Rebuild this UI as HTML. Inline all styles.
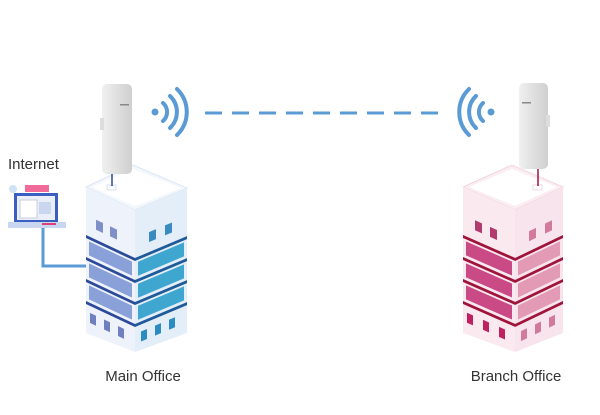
<!DOCTYPE html>
<html><head><meta charset="utf-8"><style>
body{margin:0;background:#fff;}
svg{display:block;font-family:"Liberation Sans",sans-serif;}
</style></head><body>
<svg width="600" height="415" viewBox="0 0 600 415">
<defs>
<linearGradient id="ant" x1="0" x2="1"><stop offset="0" stop-color="#f0f0f0"/><stop offset="1" stop-color="#cfcfcf"/></linearGradient>
</defs>
<!-- cable -->
<polyline points="43,228 43,266 88,266" fill="none" stroke="#5b9bd5" stroke-width="3"/>
<!-- laptop -->
<g>
<circle cx="13" cy="189" r="4" fill="#cfe3f5"/>
<rect x="14" y="193" width="44" height="29" fill="#3b5fc0"/>
<rect x="17" y="196" width="38" height="24" fill="#e9eef8"/>
<rect x="25" y="185" width="24" height="7" fill="#f06a9a"/>
<rect x="20" y="200" width="17" height="18" fill="#ffffff" stroke="#ccd"/>
<rect x="39" y="202" width="12" height="12" fill="#c9d6f0"/>
<rect x="8" y="222" width="58" height="6" fill="#c9d6ef"/>
<rect x="42" y="223" width="14" height="2" fill="#e0407a"/>
</g>
<text x="8" y="169" font-size="15" fill="#333">Internet</text>

<!-- Main building -->
<g>
<polygon points="86,187 133,165 187,188 135,210" fill="#f4f8fd" stroke="#dbe6f4"/>
<polygon points="92,187 133,169 181,188 135,206" fill="#ffffff"/>
<polygon points="86,187 135,210 135,352 86,333" fill="#eef2fb"/>
<polygon points="135,210 187,188 187,333 135,352" fill="#e3eef8"/>
<g transform="matrix(1,0.47,0,1,86,187)">
<rect x="10" y="28" width="7" height="10" fill="#7f8fc8"/><rect x="24" y="28" width="7" height="10" fill="#7f8fc8"/>
<rect x="0" y="48" width="49" height="3" fill="#2c4a9a"/>
<rect x="3" y="53" width="43" height="14" fill="#8aa0d8"/>
<rect x="0" y="70" width="49" height="3" fill="#2c4a9a"/>
<rect x="3" y="75" width="43" height="14" fill="#8aa0d8"/>
<rect x="0" y="92" width="49" height="3" fill="#2c4a9a"/>
<rect x="3" y="97" width="43" height="14" fill="#8aa0d8"/>
<rect x="0" y="114" width="49" height="3" fill="#2c4a9a"/>
<rect x="4" y="124" width="6" height="10" fill="#6f80c0"/><rect x="18" y="124" width="6" height="10" fill="#6f80c0"/><rect x="32" y="124" width="6" height="10" fill="#6f80c0"/>
</g>
<g transform="matrix(1,-0.42,0,1,135,210)">
<rect x="14" y="28" width="7" height="10" fill="#3a8cc0"/><rect x="30" y="28" width="7" height="10" fill="#3a8cc0"/>
<rect x="0" y="48" width="52" height="3" fill="#1f5a9a"/>
<rect x="3" y="53" width="46" height="14" fill="#3fa6cf"/>
<rect x="0" y="70" width="52" height="3" fill="#1f5a9a"/>
<rect x="3" y="75" width="46" height="14" fill="#3fa6cf"/>
<rect x="0" y="92" width="52" height="3" fill="#1f5a9a"/>
<rect x="3" y="97" width="46" height="14" fill="#3fa6cf"/>
<rect x="0" y="114" width="52" height="3" fill="#1f5a9a"/>
<rect x="6" y="124" width="6" height="10" fill="#2a8cc0"/><rect x="20" y="124" width="6" height="10" fill="#2a8cc0"/><rect x="34" y="124" width="6" height="10" fill="#2a8cc0"/>
</g>
<rect x="107" y="185" width="9" height="5" fill="#fff" stroke="#d8e0ee"/>
<line x1="112" y1="173" x2="112" y2="186" stroke="#2c4a9a" stroke-width="1.5"/>
</g>
<!-- Main antenna -->
<rect x="102" y="84" width="30" height="90" rx="5" fill="url(#ant)"/>
<rect x="120" y="104" width="9" height="1.5" fill="#888"/>
<rect x="100" y="118" width="4" height="12" fill="#ddd"/>

<!-- Branch building -->
<g>
<polygon points="463,187 512,165 563,187 515,210" fill="#fbeef3" stroke="#f2d6e2"/>
<polygon points="469,187 512,169 557,187 515,206" fill="#ffffff"/>
<polygon points="463,187 515,210 515,352 463,333" fill="#fbe9f0"/>
<polygon points="515,210 563,187 563,333 515,352" fill="#f8e4ec"/>
<g transform="matrix(1,0.44,0,1,463,187)">
<rect x="12" y="28" width="7" height="10" fill="#b33a6e"/><rect x="27" y="28" width="7" height="10" fill="#b33a6e"/>
<rect x="0" y="48" width="52" height="3" fill="#a0143c"/>
<rect x="3" y="53" width="46" height="14" fill="#c94a85"/>
<rect x="0" y="70" width="52" height="3" fill="#a0143c"/>
<rect x="3" y="75" width="46" height="14" fill="#c94a85"/>
<rect x="0" y="92" width="52" height="3" fill="#a0143c"/>
<rect x="3" y="97" width="46" height="14" fill="#c94a85"/>
<rect x="0" y="114" width="52" height="3" fill="#a0143c"/>
<rect x="4" y="124" width="6" height="10" fill="#c02060"/><rect x="20" y="124" width="6" height="10" fill="#c02060"/><rect x="36" y="124" width="6" height="10" fill="#c02060"/>
</g>
<g transform="matrix(1,-0.48,0,1,515,210)">
<rect x="14" y="28" width="7" height="10" fill="#d27a9a"/><rect x="30" y="28" width="7" height="10" fill="#d27a9a"/>
<rect x="0" y="48" width="48" height="3" fill="#a0143c"/>
<rect x="3" y="53" width="42" height="14" fill="#e29ab5"/>
<rect x="0" y="70" width="48" height="3" fill="#a0143c"/>
<rect x="3" y="75" width="42" height="14" fill="#e29ab5"/>
<rect x="0" y="92" width="48" height="3" fill="#a0143c"/>
<rect x="3" y="97" width="42" height="14" fill="#e29ab5"/>
<rect x="0" y="114" width="48" height="3" fill="#a0143c"/>
<rect x="6" y="124" width="6" height="10" fill="#d27a9a"/><rect x="20" y="124" width="6" height="10" fill="#d27a9a"/><rect x="34" y="124" width="6" height="10" fill="#d27a9a"/>
</g>
<rect x="533" y="185" width="9" height="5" fill="#fff" stroke="#f0d8e2"/>
<line x1="538" y1="168" x2="538" y2="186" stroke="#a0143c" stroke-width="1.5"/>
</g>
<!-- Branch antenna -->
<rect x="519" y="83" width="29" height="86" rx="5" fill="url(#ant)"/>
<rect x="522" y="102" width="9" height="1.5" fill="#888"/>
<rect x="546" y="115" width="4" height="12" fill="#ddd"/>

<!-- wifi left -->
<g fill="none" stroke="#5b9bd5" stroke-width="4" stroke-linecap="round">
<circle cx="155" cy="112" r="3.5" fill="#5b9bd5" stroke="none"/>
<path d="M163,103 A12,12 0 0 1 163,121"/>
<path d="M170,96 A22,22 0 0 1 170,128"/>
<path d="M177,89 A32,32 0 0 1 177,135"/>
</g>
<!-- wifi right -->
<g fill="none" stroke="#5b9bd5" stroke-width="4" stroke-linecap="round">
<circle cx="491" cy="112" r="3.5" fill="#5b9bd5" stroke="none"/>
<path d="M483,103 A12,12 0 0 0 483,121"/>
<path d="M476,96 A22,22 0 0 0 476,128"/>
<path d="M469,89 A32,32 0 0 0 469,135"/>
</g>
<line x1="205" y1="113" x2="448" y2="113" stroke="#5b9bd5" stroke-width="3" stroke-dasharray="17,10"/>

<text x="143" y="381" font-size="15" fill="#333" text-anchor="middle">Main Office</text>
<text x="516" y="381" font-size="15" fill="#333" text-anchor="middle">Branch Office</text>
</svg>
</body></html>
